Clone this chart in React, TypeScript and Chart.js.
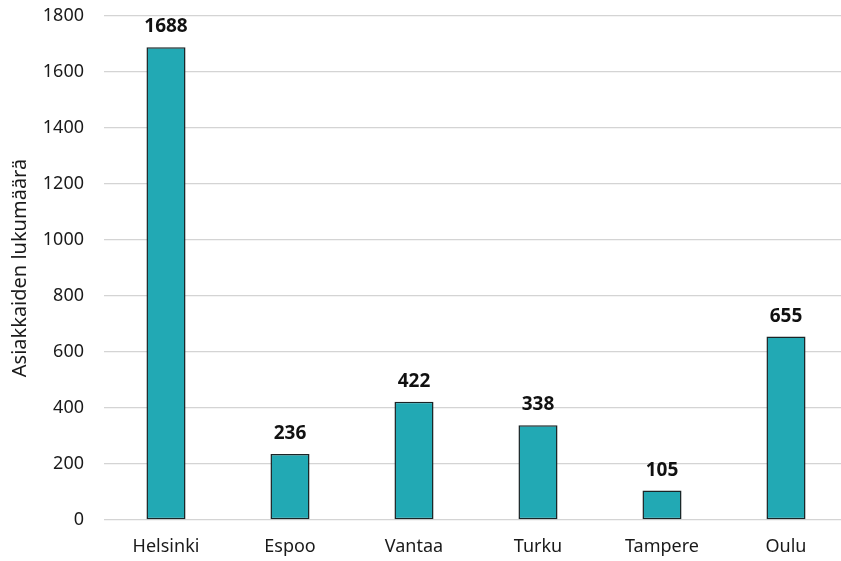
import React, { useEffect, useRef } from "react";
import { Chart, registerables } from "chart.js";

Chart.register(...registerables);

const cities = ["Helsinki", "Espoo", "Vantaa", "Turku", "Tampere", "Oulu"];
const customerCounts = [1688, 236, 422, 338, 105, 655];
const yTicks = [0, 200, 400, 600, 800, 1000, 1200, 1400, 1600, 1800];
const yTitle = "Asiakkaiden lukumäärä";

const FONT = "'Noto Sans', 'Open Sans', sans-serif";

// Draws each bar's value in bold above it
const valueLabels = {
  id: "valueLabels",
  afterDatasetsDraw(chart: any) {
    const { ctx } = chart;
    const meta = chart.getDatasetMeta(0);
    const data = chart.data.datasets[0].data as number[];
    ctx.save();
    ctx.font = `bold 19px ${FONT}`;
    ctx.fillStyle = "#111111";
    ctx.textAlign = "center";
    ctx.textBaseline = "bottom";
    meta.data.forEach((bar: any, i: number) => {
      ctx.fillText(String(data[i]), bar.x, bar.y - 11);
    });
    ctx.restore();
  },
};

export default function App() {
  const canvasRef = useRef<HTMLCanvasElement | null>(null);

  useEffect(() => {
    if (!canvasRef.current) return;
    const chart = new Chart(canvasRef.current, {
      type: "bar",
      data: {
        labels: cities,
        datasets: [
          {
            data: customerCounts,
            backgroundColor: "#22A9B4",
            borderColor: "#1a2426",
            borderWidth: 1.5,
            borderSkipped: false,
            categoryPercentage: 1,
            barPercentage: 0.315,
          },
        ],
      },
      options: {
        animation: false,
        responsive: false,
        maintainAspectRatio: false,
        layout: { padding: { top: 16, right: 0, left: 0, bottom: 0 } },
        plugins: {
          legend: { display: false },
          tooltip: { enabled: false },
        },
        scales: {
          x: {
            grid: { display: false, drawTicks: false },
            border: { display: false },
            ticks: {
              color: "#1a1a1a",
              font: { family: FONT, size: 18 },
              padding: 16,
              maxRotation: 0,
            },
            afterFit(scale: any) {
              scale.height = 41;
              scale.paddingLeft = 0;
              scale.paddingRight = 0;
            },
          },
          y: {
            min: 0,
            max: 1800,
            afterBuildTicks(scale: any) {
              scale.ticks = yTicks.map((v) => ({ value: v }));
            },
            grid: { color: "#d4d4d4", lineWidth: 1.3, drawTicks: false },
            border: { display: false },
            ticks: {
              color: "#1a1a1a",
              font: { family: FONT, size: 18 },
              padding: 20,
              callback: (v: any) => String(v),
            },
            title: {
              display: true,
              text: yTitle,
              color: "#1a1a1a",
              font: { family: FONT, size: 20 },
              padding: { top: 8, bottom: 0 },
            },
            afterFit(scale: any) {
              scale.width = 104;
              scale.paddingTop = 0;
              scale.paddingBottom = 0;
            },
          },
        },
      },
      plugins: [valueLabels],
    });
    return () => chart.destroy();
  }, []);

  return (
    <div
      style={{
        position: "fixed",
        left: 0,
        top: 0,
        width: 841,
        height: 561,
        overflow: "hidden",
        background: "#ffffff",
      }}
    >
      <canvas
        ref={canvasRef}
        width={848}
        height={561}
        style={{ width: 848, height: 561, display: "block" }}
      />
    </div>
  );
}
